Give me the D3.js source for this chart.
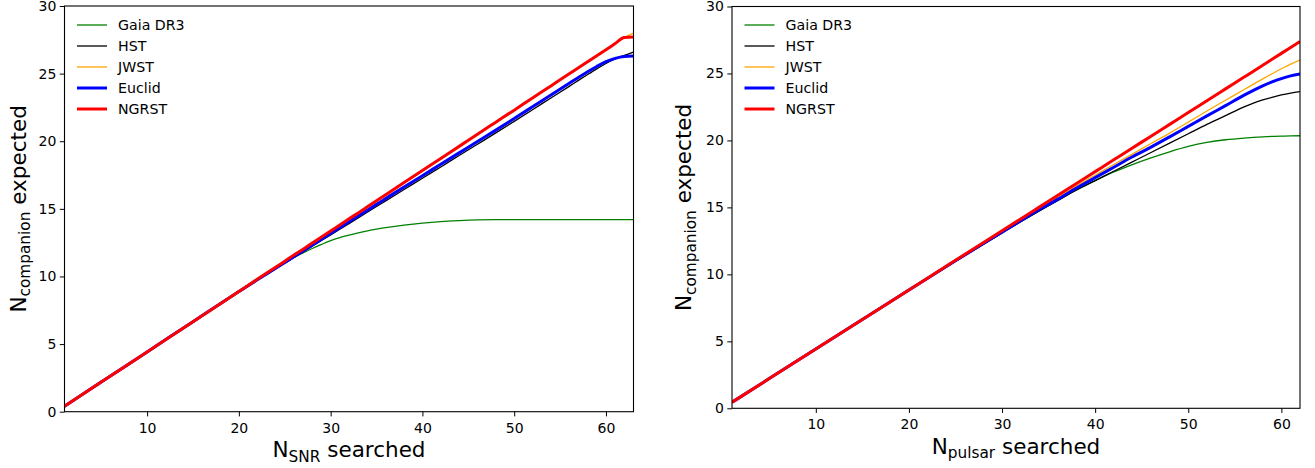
<!DOCTYPE html>
<html>
<head>
<meta charset="utf-8">
<script src="https://cdn.jsdelivr.net/npm/d3@7"></script>
<style>
  html, body { margin: 0; padding: 0; background: #fff; }
  svg { display: block; }
  text { font-family: "DejaVu Sans", sans-serif; fill: #000; }
</style>
</head>
<body>
<svg id="chart" width="1315" height="468"></svg>
<script>
// ---------- DATA ----------
const seriesNames = ["Gaia DR3", "HST", "JWST", "Euclid", "NGRST"];
const seriesColors = ["#008000", "#000000", "#FFA500", "#0000FF", "#FF0000"];
const seriesWidths = [1.3, 1.3, 1.3, 3, 3];

const yTicks = [0, 5, 10, 15, 20, 25, 30];
const xTicks = [10, 20, 30, 40, 50, 60];

// Left panel: N_SNR searched
const xSNR = [1, 5, 10, 15, 20, 22, 24, 25, 26, 27, 28, 29, 30, 31, 32, 33, 34, 35, 36, 38, 40, 42, 44, 46, 48, 50, 52, 54, 56, 57, 58, 59, 60, 61, 62, 63];
const snrGaia   = [0.40, 2.19, 4.42, 6.65, 8.87, 9.74, 10.60, 11.00, 11.40, 11.75, 12.07, 12.37, 12.65, 12.87, 13.05, 13.22, 13.37, 13.50, 13.61, 13.80, 13.95, 14.06, 14.13, 14.18, 14.20, 14.20, 14.20, 14.20, 14.20, 14.20, 14.20, 14.20, 14.20, 14.20, 14.20, 14.20];
const snrHST    = [0.40, 2.19, 4.42, 6.65, 8.86, 9.72, 10.56, 10.98, 11.40, 11.82, 12.24, 12.66, 13.07, 13.49, 13.91, 14.33, 14.75, 15.17, 15.59, 16.43, 17.26, 18.10, 18.94, 19.78, 20.62, 21.47, 22.33, 23.20, 24.06, 24.50, 24.93, 25.35, 25.75, 26.08, 26.35, 26.60];
const snrJWST   = [0.40, 2.19, 4.42, 6.66, 8.89, 9.79, 10.68, 11.13, 11.58, 12.02, 12.47, 12.92, 13.36, 13.81, 14.26, 14.70, 15.15, 15.60, 16.05, 16.94, 17.83, 18.73, 19.62, 20.52, 21.41, 22.30, 23.20, 24.09, 24.99, 25.43, 25.88, 26.33, 26.77, 27.22, 27.67, 28.00];
const snrEuclid = [0.40, 2.19, 4.42, 6.66, 8.88, 9.75, 10.60, 11.03, 11.46, 11.89, 12.32, 12.75, 13.18, 13.61, 14.04, 14.47, 14.90, 15.33, 15.76, 16.62, 17.45, 18.30, 19.14, 19.98, 20.82, 21.68, 22.55, 23.42, 24.29, 24.72, 25.14, 25.53, 25.88, 26.13, 26.27, 26.30];
const snrNGRST  = [0.40, 2.19, 4.42, 6.66, 8.89, 9.79, 10.68, 11.13, 11.58, 12.02, 12.47, 12.92, 13.36, 13.81, 14.26, 14.70, 15.15, 15.60, 16.05, 16.94, 17.83, 18.73, 19.62, 20.52, 21.41, 22.30, 23.20, 24.09, 24.99, 25.43, 25.88, 26.33, 26.77, 27.22, 27.67, 27.70];

// Right panel: N_pulsar searched
const xPulsar = [1, 5, 10, 15, 20, 25, 30, 32, 34, 36, 38, 40, 42, 44, 46, 48, 50, 52, 54, 56, 57, 58, 59, 60, 61, 62];
const psrGaia   = [0.45, 2.22, 4.42, 6.62, 8.82, 10.98, 13.10, 13.93, 14.74, 15.52, 16.30, 17.00, 17.65, 18.20, 18.70, 19.15, 19.55, 19.85, 20.05, 20.18, 20.23, 20.27, 20.30, 20.32, 20.34, 20.35];
const psrHST    = [0.45, 2.22, 4.42, 6.62, 8.82, 10.98, 13.10, 13.93, 14.74, 15.52, 16.30, 17.00, 17.70, 18.40, 19.10, 19.80, 20.50, 21.20, 21.85, 22.50, 22.78, 23.02, 23.22, 23.40, 23.54, 23.65];
const psrJWST   = [0.45, 2.22, 4.42, 6.63, 8.84, 11.04, 13.20, 14.07, 14.93, 15.77, 16.60, 17.40, 18.20, 18.98, 19.77, 20.55, 21.37, 22.20, 23.00, 23.80, 24.20, 24.60, 24.98, 25.35, 25.70, 26.00];
const psrEuclid = [0.45, 2.22, 4.42, 6.63, 8.83, 11.02, 13.15, 14.00, 14.84, 15.62, 16.45, 17.22, 18.00, 18.78, 19.50, 20.27, 21.05, 21.83, 22.60, 23.38, 23.74, 24.07, 24.37, 24.62, 24.82, 24.97];
const psrNGRST  = [0.45, 2.22, 4.42, 6.63, 8.84, 11.05, 13.25, 14.14, 15.02, 15.90, 16.79, 17.67, 18.55, 19.43, 20.32, 21.20, 22.08, 22.97, 23.85, 24.73, 25.17, 25.62, 26.06, 26.50, 26.94, 27.38];

// ---------- DRAW ----------
const svg = d3.select("#chart");

const panels = [
  { id: "snr", xs: xSNR, series: [snrGaia, snrHST, snrJWST, snrEuclid, snrNGRST],
    xDomain: [1, 63], left: 64.5, right: 633.5, top: 6, bottom: 411.7,
    sub: "SNR", ylabX: 25.5, xlabY: 457 },
  { id: "psr", xs: xPulsar, series: [psrGaia, psrHST, psrJWST, psrEuclid, psrNGRST],
    xDomain: [1, 62], left: 732, right: 1300, top: 6.5, bottom: 408.3,
    sub: "pulsar", ylabX: 691, xlabY: 453.5 }
];

panels.forEach(p => {
  const x = d3.scaleLinear().domain(p.xDomain).range([p.left, p.right]);
  const y = d3.scaleLinear().domain([0, 30]).range([p.bottom, p.top]);
  const g = svg.append("g");

  g.append("clipPath").attr("id", "clip-" + p.id)
    .append("rect").attr("x", p.left).attr("y", p.top)
    .attr("width", p.right - p.left).attr("height", p.bottom - p.top);

  const line = d3.line().curve(d3.curveMonotoneX).x(d => x(d[0])).y(d => y(d[1]));
  const lines = g.append("g").attr("clip-path", `url(#clip-${p.id})`);
  p.series.forEach((vals, i) => {
    lines.append("path")
      .datum(p.xs.map((xv, k) => [xv, vals[k]]))
      .attr("d", line)
      .attr("fill", "none")
      .attr("stroke", seriesColors[i])
      .attr("stroke-width", seriesWidths[i])
      .attr("stroke-linejoin", "round");
  });

  // axes
  const xAxis = d3.axisBottom(x).tickValues(xTicks).tickSize(4.7).tickPadding(6.2).tickSizeOuter(0);
  const yAxis = d3.axisLeft(y).tickValues(yTicks).tickSize(4.7).tickPadding(3.5).tickSizeOuter(0);
  const gx = g.append("g").attr("transform", `translate(0,${p.bottom})`).call(xAxis);
  const gy = g.append("g").attr("transform", `translate(${p.left},0)`).call(yAxis);
  [gx, gy].forEach(a => {
    a.select(".domain").remove();
    a.selectAll("line").attr("stroke", "#000").attr("stroke-width", 1);
    a.selectAll("text").attr("font-family", "DejaVu Sans").attr("font-size", 14).attr("fill", "#000");
  });

  // frame
  g.append("rect").attr("x", p.left).attr("y", p.top)
    .attr("width", p.right - p.left).attr("height", p.bottom - p.top)
    .attr("fill", "none").attr("stroke", "#000").attr("stroke-width", 1.1);

  // x label
  const cx = (p.left + p.right) / 2;
  const xl = g.append("text").attr("x", cx).attr("y", p.xlabY)
    .attr("text-anchor", "middle").attr("font-size", 21.5);
  xl.append("tspan").text("N");
  xl.append("tspan").attr("font-size", 15.3).attr("dy", 4.6).text(p.sub);
  xl.append("tspan").attr("dy", -4.6).text(" searched");

  // y label
  const cy = (p.top + p.bottom) / 2;
  const yl = g.append("text")
    .attr("transform", `translate(${p.ylabX},${cy}) rotate(-90)`)
    .attr("text-anchor", "middle").attr("font-size", 21.5);
  yl.append("tspan").text("N");
  yl.append("tspan").attr("font-size", 15.3).attr("dy", 4.6).text("companion");
  yl.append("tspan").attr("dy", -4.6).text(" expected");

  // legend
  const lg = g.append("g");
  seriesNames.forEach((name, i) => {
    const ly = 25 + i * 21;
    lg.append("line")
      .attr("x1", p.left + 12.5).attr("x2", p.left + 42.5)
      .attr("y1", ly).attr("y2", ly)
      .attr("stroke", seriesColors[i]).attr("stroke-width", seriesWidths[i]);
    lg.append("text")
      .attr("x", p.left + 53.5).attr("y", ly).attr("dy", "0.36em")
      .attr("font-size", 14.2).text(name);
  });
});
</script>
</body>
</html>
